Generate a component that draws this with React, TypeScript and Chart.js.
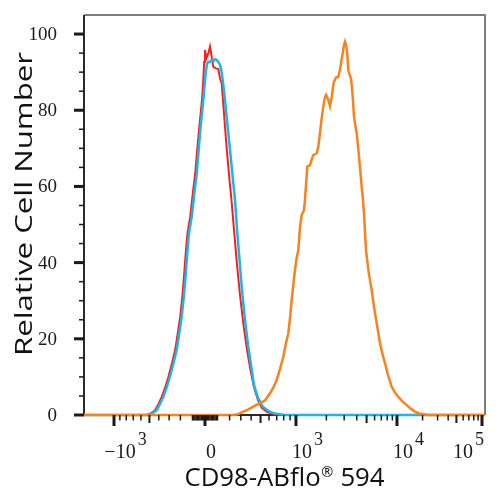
import { useEffect, useRef } from 'react';
import { Chart, registerables } from 'chart.js';

Chart.register(...registerables);

// ---- data (x = display channel 0..1000 of the biexponential axis, y = relative cell number) ----
const orangeX = [0, 371.6, 384.0, 397.3, 409.0, 422.2, 438.9, 451.4, 463.8, 472.6, 480.6, 488.8, 497.0, 503.7, 509.5, 513.7, 518.0, 522.4, 526.2, 530.4, 534.4, 538.7, 542.9, 548.6, 551.1, 553.6, 556.9, 563.6, 567.3, 571.8, 580.3, 584.3, 587.3, 590.3, 593.5, 596.8, 600.3, 603.5, 606.0, 609.2, 613.5, 617.7, 621.0, 623.5, 628.4, 634.2, 638.4, 642.2, 645.1, 647.9, 650.9, 653.4, 656.6, 659.1, 662.1, 665.8, 668.3, 670.1, 673.3, 676.6, 680.1, 683.3, 686.6, 689.5, 692.5, 695.8, 698.3, 700.8, 703.3, 709.0, 713.2, 717.5, 721.5, 725.7, 731.9, 738.2, 744.4, 750.6, 758.1, 767.3, 775.6, 783.8, 793.0, 804.7, 815.5, 825.4, 835.4, 846.2, 857.9, 1000];
const orangeY = [0, 0, 0.2, 0.9, 1.4, 2.2, 3.1, 3.8, 5.7, 7.3, 9.2, 12.1, 15.3, 18.9, 21.4, 25.5, 30.2, 34.6, 38.1, 41.2, 43.3, 49.4, 52.5, 53.8, 56.4, 60.4, 65.2, 65.6, 66.9, 68.2, 68.7, 70.4, 73.0, 75.7, 78.5, 80.9, 83.2, 84.0, 83.5, 82.7, 81.1, 83.5, 86.1, 87.5, 88.6, 88.8, 90.6, 93.2, 94.9, 96.9, 98.0, 97.1, 94.9, 90.6, 89.5, 88.4, 85.8, 83.5, 78.3, 76.1, 73.9, 70.6, 66.9, 63.5, 59.9, 56.4, 52.9, 48.0, 43.3, 38.1, 35.4, 32.8, 29.7, 26.7, 22.8, 18.8, 16.0, 13.6, 10.5, 7.4, 5.9, 4.8, 3.7, 2.6, 1.6, 0.9, 0.4, 0.2, 0, 0];

const blueX = [0, 159.6, 169.6, 181.3, 189.5, 197.8, 205.7, 214.5, 222.7, 231.2, 236.9, 243.6, 248.1, 251.9, 258.1, 261.8, 268.6, 274.3, 281.1, 285.5, 289.3, 293.0, 297.5, 300.5, 303.5, 306.7, 310.0, 314.2, 318.5, 322.4, 326.7, 330.9, 334.9, 339.2, 343.4, 347.4, 351.6, 355.9, 359.9, 364.1, 368.3, 372.3, 376.6, 382.3, 387.8, 394.0, 401.5, 409.0, 416.5, 423.9, 433.9, 446.4, 463.8, 478.8, 496.3, 501.3, 1000];
const blueY = [0, 0, 0.4, 1.3, 2.9, 4.8, 7.1, 10.1, 13.4, 17.1, 21.0, 25.8, 30.2, 34.6, 43.3, 47.8, 52.0, 57.5, 63.4, 69.0, 73.9, 78.0, 82.7, 86.4, 89.7, 92.1, 92.7, 92.7, 93.2, 92.9, 93.4, 93.2, 92.7, 91.9, 90.0, 86.6, 82.7, 78.2, 74.0, 69.6, 65.2, 60.9, 56.4, 47.8, 40.7, 32.8, 24.9, 18.4, 13.1, 7.9, 4.5, 2.1, 0.8, 0.3, 0.1, 0, 0];

const redX = [0, 156.4, 165.8, 177.6, 185.8, 194.0, 202.0, 210.7, 218.9, 227.4, 233.2, 239.9, 244.4, 248.1, 254.3, 258.1, 264.8, 270.6, 277.3, 281.8, 286.0, 289.8, 294.3, 297.5, 299.7, 301.7, 305.5, 310.0, 314.2, 318.5, 322.4, 329.0, 334.9, 339.2, 343.4, 346.6, 350.4, 354.1, 358.4, 362.8, 367.8, 374.1, 381.6, 389.0, 397.8, 406.5, 415.2, 423.9, 433.9, 443.9, 456.4, 468.8, 478.8, 1000];
const redY = [0, 0, 0.4, 1.3, 2.9, 4.8, 7.1, 10.1, 13.4, 17.1, 21.0, 25.8, 30.2, 34.6, 43.3, 47.8, 52.0, 57.5, 63.4, 69.0, 73.9, 78.0, 82.7, 88.0, 92.7, 95.8, 93.7, 94.9, 96.7, 94.0, 91.4, 91.0, 90.8, 88.4, 87.0, 82.7, 77.4, 72.2, 66.9, 61.7, 56.4, 48.6, 39.4, 31.5, 23.6, 17.1, 11.8, 7.3, 3.9, 1.8, 0.8, 0.3, 0, 0];

// ---- axis ticks ----
const yMajorTicks = [0, 20, 40, 60, 80, 100];
const yMinorStep = 5;
const xMajorValues = [-1000, 0, 1000, 10000, 100000];
const xMajorBase = ['\u221210', '0', '10', '10', '10'];
const xMajorExp = ['3', '', '3', '4', '5'];
const xTitle = 'CD98-ABflo';
const xTitleMark = '\u00AE';
const xTitleTail = ' 594';
const yTitle = 'Relative Cell Number';

// biexponential display transform: intensity -> display channel (0..1000)
const ZERO_CH = 301.7;
const LIN_SPAN = 226.9; // channels from 0 to 10^3
const DEC3_SPAN = 251.9; // 10^3 -> 10^4
const DEC4_SPAN = 212.0; // 10^4 -> 10^5
const ASINH_C = 500;
function toChannel(v: number): number {
  const a = Math.abs(v);
  if (a <= 1000) return ZERO_CH + Math.sign(v) * LIN_SPAN * Math.asinh(a / ASINH_C) / Math.asinh(1000 / ASINH_C);
  const d = Math.log10(a / 1000);
  if (v < 0) return ZERO_CH - LIN_SPAN - DEC3_SPAN * d;
  return d <= 1 ? ZERO_CH + LIN_SPAN + DEC3_SPAN * d : ZERO_CH + LIN_SPAN + DEC3_SPAN + DEC4_SPAN * (d - 1);
}

function minorValues(): { v: number; mid: boolean }[] {
  const out: { v: number; mid: boolean }[] = [];
  for (let k = 1; k <= 9; k++) out.push({ v: -100 * k, mid: k === 5 });
  for (let k = 1; k <= 9; k++) { out.push({ v: -10 * k, mid: false }); out.push({ v: 10 * k, mid: false }); }
  for (let k = 1; k <= 9; k++) out.push({ v: 100 * k, mid: k === 5 });
  for (let k = 2; k <= 9; k++) out.push({ v: 1000 * k, mid: k === 5 });
  for (let k = 2; k <= 9; k++) out.push({ v: 10000 * k, mid: k === 5 });
  return out;
}

const SERIF = '"Liberation Serif", "DejaVu Serif", serif';
const SANS = '"Open Sans", "Noto Sans", sans-serif';

const axesPlugin = {
  id: 'flowAxes',
  beforeDatasetsDraw(chart: any) {
    const { ctx, chartArea: a } = chart;
    ctx.save();
    ctx.lineWidth = 2;
    ctx.strokeStyle = '#7d7d7d';
    ctx.beginPath();
    ctx.moveTo(a.left, a.top);
    ctx.lineTo(a.right, a.top);
    ctx.lineTo(a.right, a.bottom);
    ctx.stroke();
    ctx.strokeStyle = '#2a2a2a';
    ctx.beginPath();
    ctx.moveTo(a.left, a.top);
    ctx.lineTo(a.left, a.bottom);
    ctx.lineTo(a.right, a.bottom);
    ctx.stroke();
    ctx.restore();
  },
  afterDraw(chart: any) {
    const { ctx, chartArea: a } = chart;
    const xs = chart.scales.x;
    const ys = chart.scales.y;
    ctx.save();
    ctx.fillStyle = '#1a1a1a';
    // y ticks
    for (let v = 0; v <= 100; v += yMinorStep) {
      const py = ys.getPixelForValue(v);
      if (yMajorTicks.includes(v)) ctx.fillRect(a.left - 10, py - 1.5, 10, 3);
      else ctx.fillRect(a.left - 5, py - 0.75, 5, 1.5);
    }
    ctx.font = '19px ' + SERIF;
    ctx.textAlign = 'right';
    ctx.textBaseline = 'middle';
    yMajorTicks.forEach((v) => {
      ctx.fillText(String(v), a.left - 27, ys.getPixelForValue(v) + 1);
    });
    // x ticks
    minorValues().forEach(({ v, mid }) => {
      const px = xs.getPixelForValue(toChannel(v));
      if (mid) ctx.fillRect(px - 1, a.bottom, 2, 8);
      else ctx.fillRect(px - 0.75, a.bottom, 1.5, 5.5);
    });
    xMajorValues.forEach((v) => {
      const px = xs.getPixelForValue(toChannel(v));
      ctx.fillRect(px - 1.5, a.bottom, 3, 11);
    });
    // x labels with exponents
    ctx.textBaseline = 'alphabetic';
    ctx.textAlign = 'left';
    const BASE_FONT = '20px ' + SERIF;
    const EXP_FONT = '18px ' + SERIF;
    xMajorValues.forEach((v, i) => {
      const px = xs.getPixelForValue(toChannel(v));
      ctx.font = BASE_FONT;
      const bw = ctx.measureText(xMajorBase[i]).width;
      ctx.font = EXP_FONT;
      const ew = xMajorExp[i] ? ctx.measureText(xMajorExp[i]).width + 2 : 0;
      let left = px + 6 - bw / 2;
      if (left + bw + ew > a.right - 1) left = a.right - 1 - bw - ew;
      ctx.font = BASE_FONT;
      ctx.fillText(xMajorBase[i], left, 458);
      if (xMajorExp[i]) {
        ctx.font = EXP_FONT;
        ctx.fillText(xMajorExp[i], left + bw + 2, 445);
      }
    });
    // x title
    ctx.fillStyle = '#111';
    const TITLE_FONT = '25px ' + SANS;
    const MARK_FONT = '14px ' + SANS;
    ctx.font = TITLE_FONT;
    const w1 = ctx.measureText(xTitle).width;
    const w3 = ctx.measureText(xTitleTail).width;
    ctx.font = MARK_FONT;
    const w2 = ctx.measureText(xTitleMark).width + 1;
    const total = w1 + w2 + w3;
    const cx = (a.left + a.right) / 2;
    const sx = 1.03;
    ctx.save();
    ctx.translate(cx, 486);
    ctx.scale(sx, 1);
    const x0 = -total / 2;
    ctx.font = TITLE_FONT;
    ctx.fillText(xTitle, x0, 0);
    ctx.font = MARK_FONT;
    ctx.fillText(xTitleMark, x0 + w1 + 0.5, -9);
    ctx.font = TITLE_FONT;
    ctx.fillText(xTitleTail, x0 + w1 + w2, 0);
    ctx.restore();
    // y title
    ctx.save();
    ctx.translate(32, 204);
    ctx.rotate(-Math.PI / 2);
    ctx.scale(1.3, 1);
    ctx.textAlign = 'center';
    ctx.font = '24px ' + SANS;
    ctx.fillText(yTitle, 0, 0);
    ctx.restore();
    ctx.restore();
  },
};

function toPoints(xs: number[], ys: number[]) {
  return xs.map((x, i) => ({ x, y: ys[i] }));
}

export default function App() {
  const ref = useRef<HTMLCanvasElement | null>(null);
  useEffect(() => {
    if (!ref.current) return;
    const chart = new Chart(ref.current, {
      type: 'line',
      data: {
        datasets: [
          { label: 'CD98', data: toPoints(orangeX, orangeY), borderColor: '#f7821e', borderWidth: 2.5, pointRadius: 0, fill: false, tension: 0, clip: false } as any,
          { label: 'Isotype', data: toPoints(blueX, blueY), borderColor: '#1eb4e6', borderWidth: 2.5, pointRadius: 0, fill: false, tension: 0, clip: false } as any,
          { label: 'Unstained', data: toPoints(redX, redY), borderColor: '#f52020', borderWidth: 2, pointRadius: 0, fill: false, tension: 0, clip: false } as any,
        ],
      },
      options: {
        animation: false,
        responsive: false,
        devicePixelRatio: 1,
        layout: { padding: { left: 84, top: 15, right: 15, bottom: 85 } },
        plugins: { legend: { display: false }, tooltip: { enabled: false } },
        events: [],
        scales: {
          x: { type: 'linear', min: 0, max: 1000, display: false },
          y: { type: 'linear', min: 0, max: 105, display: false },
        },
      },
      plugins: [axesPlugin],
    });
    return () => chart.destroy();
  }, []);
  return (
    <div style={{ position: 'absolute', left: 0, top: 0, width: 500, height: 500, background: '#fff' }}>
      <canvas ref={ref} width={500} height={500} />
    </div>
  );
}
